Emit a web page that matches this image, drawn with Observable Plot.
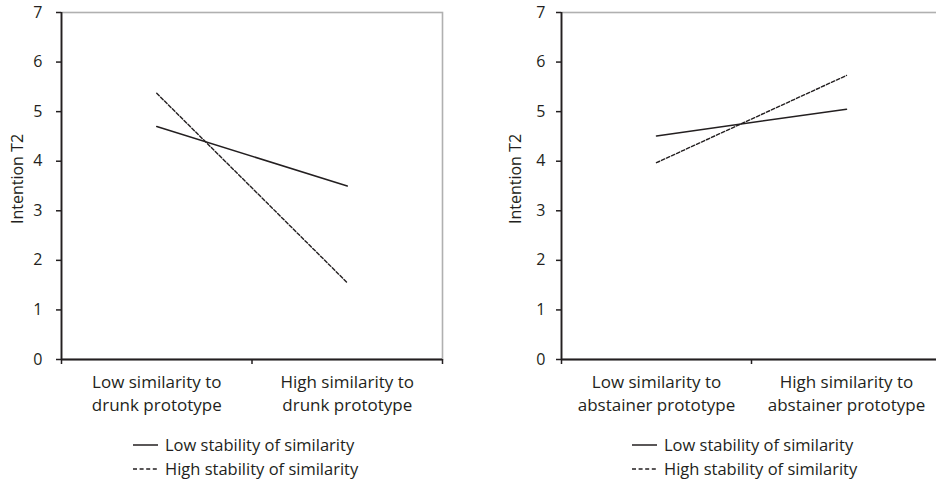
<!DOCTYPE html>
<html>
<head>
<meta charset="utf-8">
<script src="https://cdn.jsdelivr.net/npm/d3@7"></script>
<script src="https://cdn.jsdelivr.net/npm/@observablehq/plot@0.6"></script>
<style>
  html, body { margin: 0; padding: 0; background: #fff; overflow: hidden; width: 936px; height: 482px; }
  body { font-family: "Open Sans", sans-serif; color: #231f20; }
  #wrap { position: relative; width: 936px; height: 482px; overflow: hidden; }
  .panel { position: absolute; top: 0; height: 482px; }
  .legend { position: absolute; font-size: 16.5px; line-height: 24px; white-space: nowrap; }
  .legend .row { display: flex; align-items: center; }
  .legend svg { margin-right: 7px; }
</style>
</head>
<body>
<div id="wrap"></div>
<script>
// ---- data ----
const categoriesLeft = ["Low similarity to\ndrunk prototype", "High similarity to\ndrunk prototype"];
const categoriesRight = ["Low similarity to\nabstainer prototype", "High similarity to\nabstainer prototype"];
const seriesNames = ["Low stability of similarity", "High stability of similarity"];
const lowStabilityLeft = [4.70, 3.50];
const highStabilityLeft = [5.37, 1.55];
const lowStabilityRight = [4.51, 5.05];
const highStabilityRight = [3.97, 5.73];
const yTicks = [0, 1, 2, 3, 4, 5, 6, 7];
const yLabel = "Intention T2";

const ink = "#231f20";

function makePanel(categories, low, high, opts) {
  const rows = [];
  categories.forEach((c, i) => {
    rows.push({series: seriesNames[0], cat: c, xi: i + 0.5, value: low[i]});
    rows.push({series: seriesNames[1], cat: c, xi: i + 0.5, value: high[i]});
  });
  const catRows = categories.map((c, i) => ({cat: c, xi: i + 0.5}));
  const boundaries = d3.range(categories.length + 1);
  return Plot.plot({
    width: opts.width,
    height: 420,
    marginLeft: opts.marginLeft,
    marginRight: opts.marginRight,
    marginTop: 12,
    marginBottom: 61,
    style: {fontFamily: "Open Sans, sans-serif", fontSize: "16px", color: ink, background: "white"},
    x: {type: "linear", domain: [0, categories.length], axis: null},
    y: {domain: [0, 7], axis: null},
    marks: [
      Plot.frame({stroke: "#b0b0b0", strokeWidth: 1.6}),
      Plot.axisY({ticks: yTicks, tickSize: 5, tickFormat: () => "", label: null, strokeWidth: 1.5}),
      Plot.text(yTicks, {x: () => 0, y: d => d, text: d => String(d), textAnchor: "end",
                  dx: -(5 + opts.tickPadding), fontSize: 16, fill: ink}),
      Plot.text([yLabel], {frameAnchor: "left", rotate: -90, dx: -opts.labelOffset, dy: -7, textAnchor: "middle",
                  fontSize: 16, fill: ink, text: d => d}),
      Plot.axisX({ticks: boundaries, tickSize: 5, tickFormat: () => "", label: null, strokeWidth: 1.5}),
      Plot.ruleX([0], {stroke: ink, strokeWidth: 1.8}),
      Plot.ruleY([0], {stroke: ink, strokeWidth: 1.8}),
      Plot.text(catRows, {x: "xi", y: () => 0, text: "cat", lineAnchor: "top", dy: 13, lineHeight: 1.32, fontSize: 17, fill: ink}),
      Plot.line(rows.filter(d => d.series === seriesNames[0]), {x: "xi", y: "value", stroke: ink, strokeWidth: 1.5}),
      Plot.line(rows.filter(d => d.series === seriesNames[1]), {x: "xi", y: "value", stroke: ink, strokeWidth: 1.4, strokeDasharray: "3.5,2"})
    ]
  });
}

function makeLegend(left, top) {
  const div = document.createElement("div");
  div.className = "legend";
  div.style.left = left + "px";
  div.style.top = top + "px";
  seriesNames.forEach((name, i) => {
    const row = document.createElement("div");
    row.className = "row";
    row.innerHTML = `<svg width="25" height="6"><line x1="0" x2="25" y1="3" y2="3" stroke="${ink}" stroke-width="1.5" ${i === 1 ? 'stroke-dasharray="4,2.6"' : ''}/></svg><span>${name}</span>`;
    div.appendChild(row);
  });
  return div;
}

const wrap = document.getElementById("wrap");

const p1 = document.createElement("div");
p1.className = "panel"; p1.style.left = "0px"; p1.style.width = "468px";
p1.appendChild(makePanel(categoriesLeft, lowStabilityLeft, highStabilityLeft,
  {width: 468, marginLeft: 61, marginRight: 26, tickPadding: 14, labelOffset: 44}));
p1.appendChild(makeLegend(133, 433));
wrap.appendChild(p1);

const p2 = document.createElement("div");
p2.className = "panel"; p2.style.left = "468px"; p2.style.width = "500px";
p2.appendChild(makePanel(categoriesRight, lowStabilityRight, highStabilityRight,
  {width: 499, marginLeft: 93, marginRight: 26, tickPadding: 11, labelOffset: 46}));
p2.appendChild(makeLegend(164, 433));
wrap.appendChild(p2);
</script>
</body>
</html>
